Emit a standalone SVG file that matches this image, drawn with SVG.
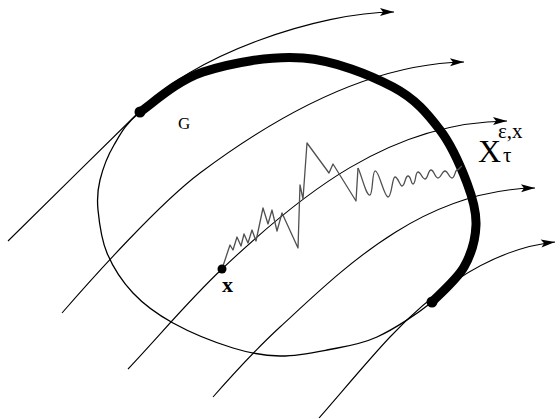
<svg xmlns="http://www.w3.org/2000/svg" width="557" height="420" viewBox="0 0 557 420">
<style>
.flow{fill:none;stroke:#000;stroke-width:1.1;marker-end:url(#arr)}
.thin{fill:none;stroke:#000;stroke-width:1.3}
.thick{fill:none;stroke:#000;stroke-width:9;stroke-linecap:round}
.noise{fill:none;stroke:#505050;stroke-width:1.3;stroke-linejoin:round}
.serif{font-family:"Liberation Serif","Times New Roman",serif;fill:#000}
</style>
<defs>
<marker id="arr" markerUnits="userSpaceOnUse" markerWidth="16" markerHeight="10" refX="14" refY="5" orient="auto" overflow="visible">
<path d="M0,1 L14,5 L0,9 L3,5 Z" fill="#000"/>
</marker>
</defs>
<g id="region-G">
<path class="thin" d="M432,302 C417.5,313.7 394.5,329 377,337 C359.5,345 343.2,346.8 327,350 C310.8,353.2 295.7,356.3 280,356 C264.3,355.7 250.8,353.5 233,348 C215.2,342.5 189.7,332.2 173,323 C156.3,313.8 144,304.7 133,293 C122,281.3 112.8,266.8 107,253 C101.2,239.2 99.2,222.2 98,210 C96.8,197.8 97.3,190.8 100,180 C102.7,169.2 107.3,156.3 114,145 C120.7,133.7 125.2,124.2 140,112"/>
<path class="thick" d="M140,112 C150.5,105.3 175.8,81 203,72 C230.2,63 271.3,55.5 303,58 C334.7,60.5 370.2,75 393,87 C415.8,99 427.7,114 440,130 C452.3,146 461,167.2 467,183 C473,198.8 476.5,211 476,225 C475.5,239 471.3,254.2 464,267 C456.7,279.8 437.3,296.2 432,302"/>
<circle cx="140" cy="112" r="5.5" fill="#000"/>
<circle cx="432" cy="302" r="5.5" fill="#000"/>
<text class="serif" x="178" y="129" font-size="17">G</text>
</g>
<g id="connectors">
<path class="flow" d="M8,241 C40,210 100,150 138,113 C190,55 320,12 394,12"/>
<path class="flow" d="M62,313 C95,275 160,203 200,173 C260,128 360,64 464,62"/>
<path class="flow" d="M128,369 C160,335 190,299 222,269 C300,195 390,122 507,121"/>
<path class="flow" d="M213,397 C235,372 255,350 280,327 C340,272 420,190 535,188"/>
<path class="flow" d="M319,418 C335,400 370,358 390,337 C420,305 480,250 555,242"/>
</g>
<g id="path-X">
<polyline class="noise" points="222,269 230,245 233,250 237,237 241,246 244,234 248,243 252,230 256,241 263,208 268,224 272,210 277,231 282,213 298,248 300,185 303,199 307,143 329,173 333,164 356,201 358,168"/>
<path class="noise" d="M358,168 C362,176 366,196 370,195 C373,194 372,172 375,171 C379,170 384,197 388,197 C392,197 392,177 395,177 C398,177 400,186 402,186 C405,186 405,176 408,176 C411,176 411,184 413,184 C416,184 415,172 418,172 C421,172 422,179 425,179 C428,179 428,170 431,170 C434,170 435,178 438,178 C441,178 442,171 445,171 C448,171 449,178 452,178 C455,178 455,170 457,170 C459,170 460,167 462,166"/>
</g>
<g id="start-x">
<circle cx="222" cy="269" r="4.5" fill="#000"/>
<text class="serif" x="222" y="292" font-size="22" font-weight="bold">x</text>
</g>
<g id="label-X">
<text class="serif" x="478" y="162" font-size="32">X</text>
<text class="serif" x="503" y="162" font-size="21">τ</text>
<text class="serif" x="498" y="138" font-size="21">ε,x</text>
</g>
</svg>
